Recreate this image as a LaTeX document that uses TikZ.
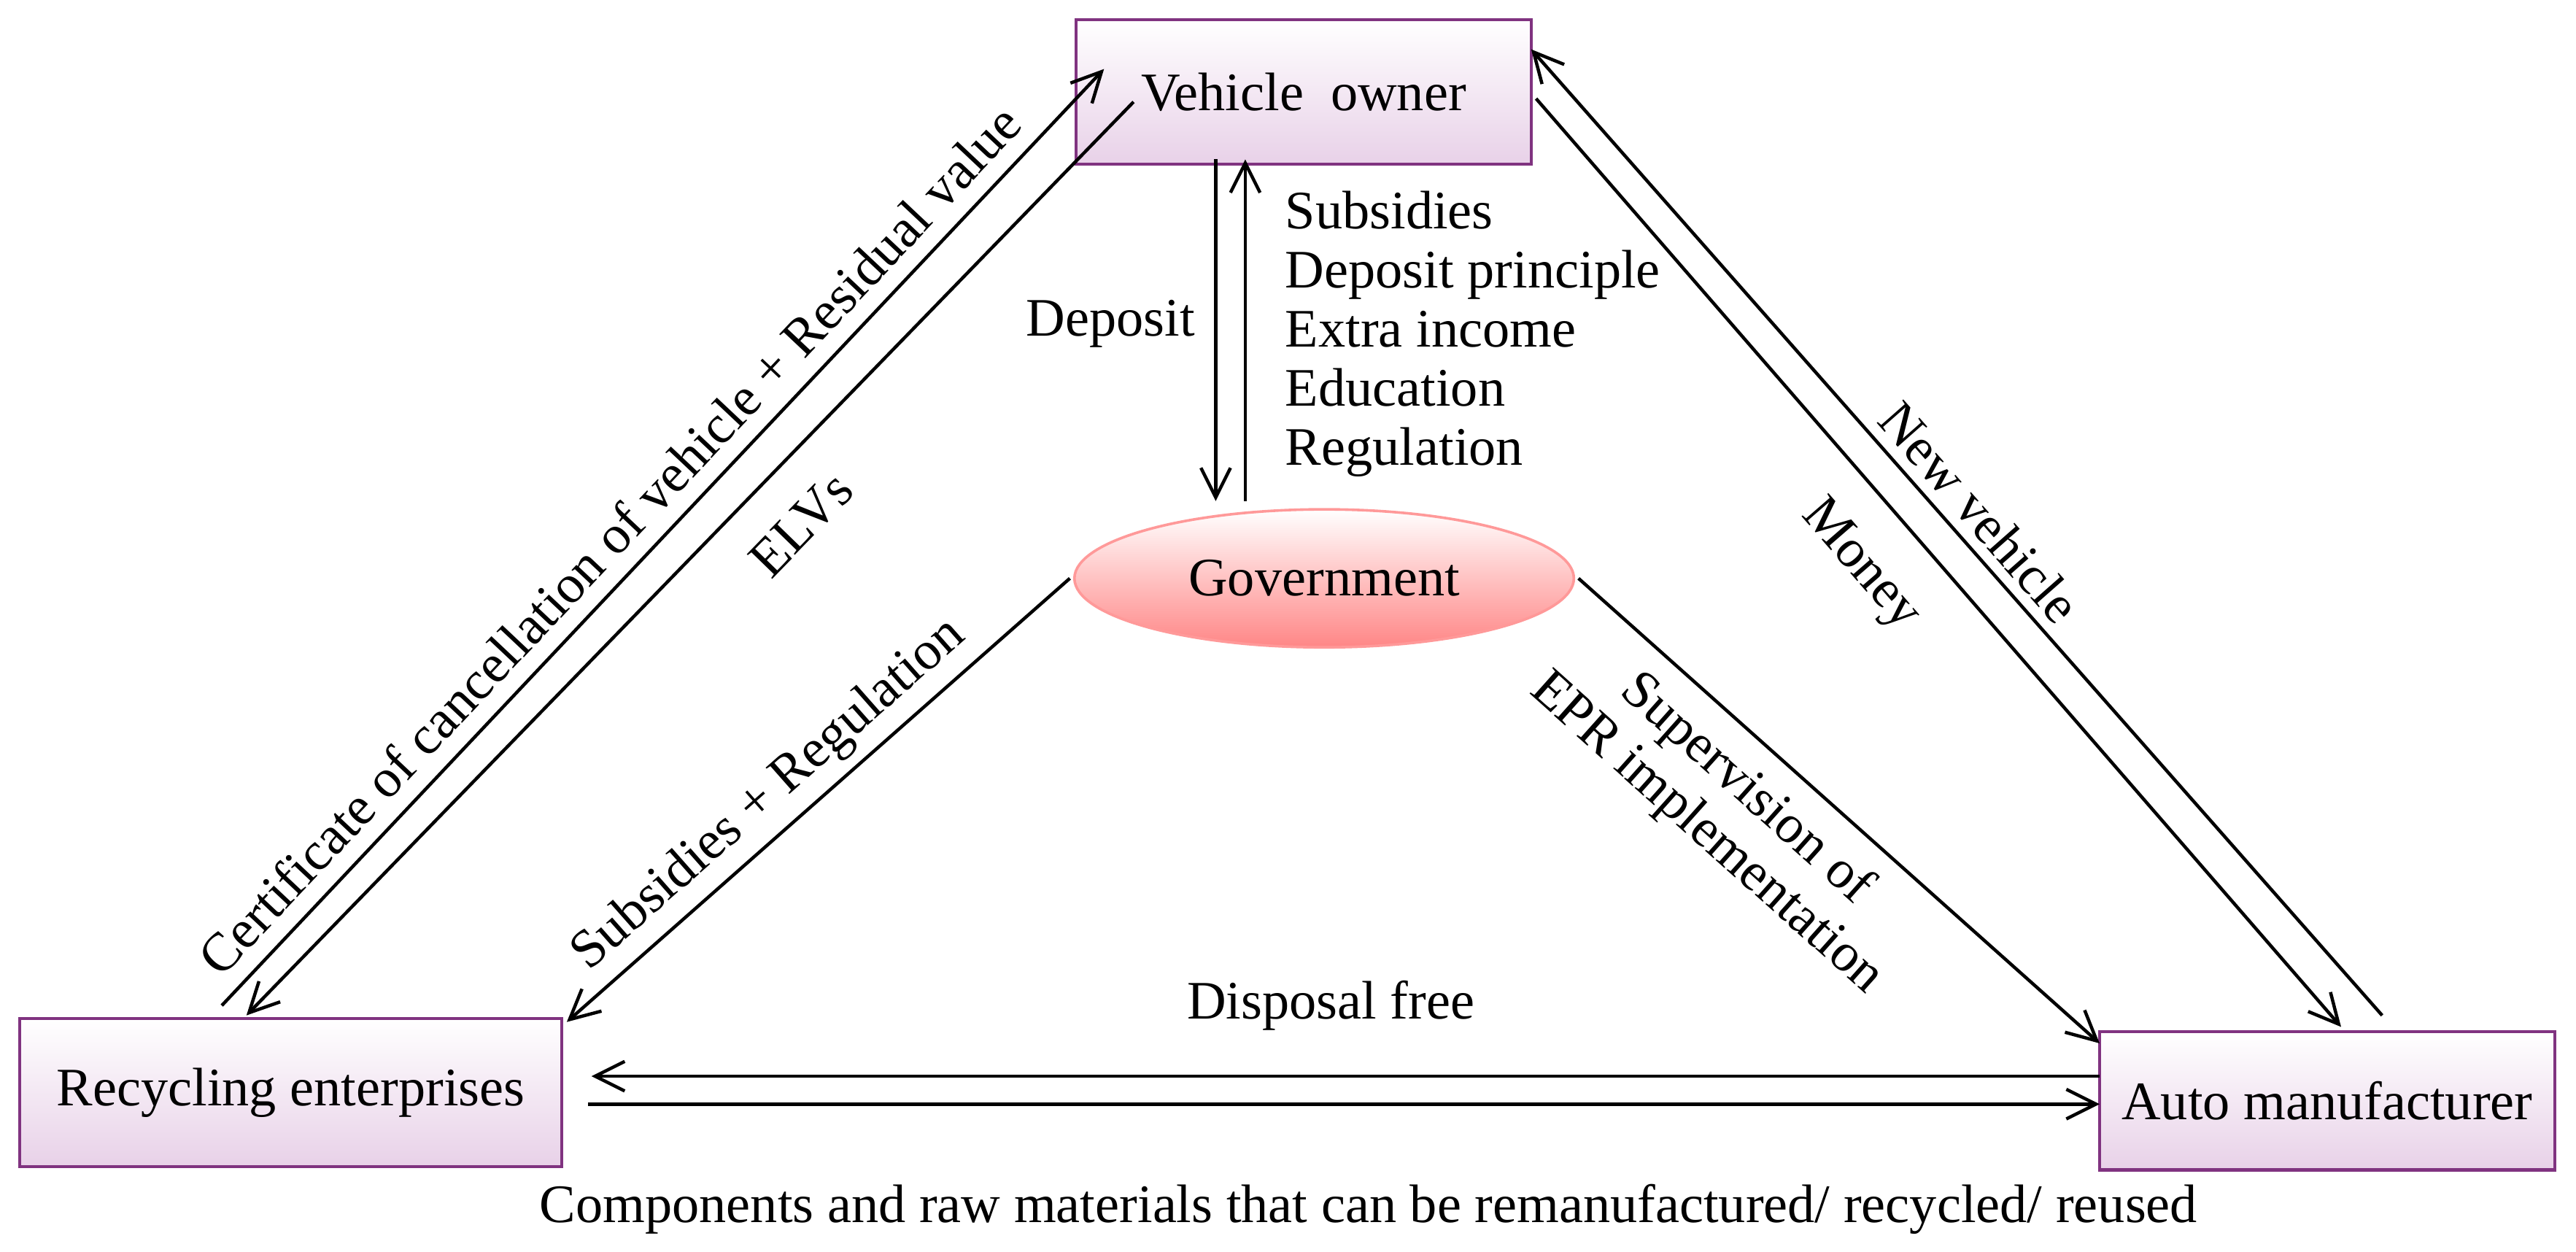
\documentclass[tikz,border=0pt]{standalone}
\usepackage{fontspec}
\setmainfont{Liberation Serif}
\usetikzlibrary{shapes.geometric,arrows.meta}
\begin{document}
\begin{tikzpicture}[x=0.5pt,y=-0.5pt,
  box/.style={draw=violet!60!gray,line width=1pt,top color=white,bottom color=violet!18,inner sep=0pt},
  ar/.style={-{Straight Barb[length=9pt,width=9pt]},line width=1pt},
  lab/.style={font=\fontsize{16.5}{18}\selectfont,inner sep=3pt},
  every node/.style={font=\fontsize{16.5}{18}\selectfont}]
\useasboundingbox (0,0) rectangle (1568,762);
\node[box,minimum width=138.5pt,minimum height=44pt] (vo) at (793.5,56) {Vehicle\ \ owner};
\node[box,minimum width=165pt,minimum height=45pt] (re) at (177,665) {Recycling enterprises};
\node[box,minimum width=138.5pt,minimum height=42pt] (am) at (1416.5,670) {Auto manufacturer};
\node[ellipse,draw=red!40,line width=0.8pt,top color=white,bottom color=red!30!pink,minimum width=152pt,minimum height=42pt,inner sep=0pt] (gov) at (806,352) {Government};
\coordinate (d1) at (740,97); \coordinate (d2) at (740,305);
\coordinate (u1) at (758,305); \coordinate (u2) at (758,97);
\draw[ar] (d1) -- (d2);
\draw[ar] (u1) -- (u2);
\coordinate (c1) at (135,612); \coordinate (c2) at (672,42);
\coordinate (e1) at (690,62); \coordinate (e2) at (150,618);
\draw[ar] (c1) -- node[lab,sloped,above,pos=0.47,yshift=2pt] (l3) {Certificate of cancellation of vehicle + Residual value} (c2);
\draw[ar] (e1) -- node[lab,sloped,below,pos=0.42,yshift=-8pt] (l4) {ELVs} (e2);
\coordinate (n1) at (1450,618); \coordinate (n2) at (932,30);
\coordinate (m1) at (935,60); \coordinate (m2) at (1425,625);
\draw[ar] (n1) -- node[lab,sloped,above,pos=0.5] (l7) {New vehicle} (n2);
\draw[ar] (m1) -- node[lab,sloped,below,pos=0.46,yshift=-8pt] (l8) {Money} (m2);
\draw[ar] (gov.west) ++(-2,0) coordinate (g1) -- node[lab,sloped,above,pos=0.55] (l5) {Subsidies + Regulation} (345,622) coordinate (g2);
\draw[ar] (gov.east) ++(2,0) coordinate (g3) -- node[lab,sloped,below,align=center,pos=0.38,inner sep=6pt] (l6) {Supervision of\\EPR implementation} (1278,635) coordinate (g4);
\coordinate (b1) at (1278,655); \coordinate (b2) at (360,655);
\coordinate (b3) at (358,672); \coordinate (b4) at (1278,672);
\draw[ar] (b1) -- (b2);
\draw[ar] (b3) -- (b4);
\node[lab] (l1) at (676,197) {Deposit};
\node[lab,align=left,anchor=north west] (l2) at (776,110) {Subsidies\\Deposit principle\\Extra income\\Education\\Regulation};
\node[lab] (l9) at (810,612) {Disposal free};
\node[lab] (l10) at (833,736) {Components and raw materials that can be remanufactured/ recycled/ reused};
\end{tikzpicture}
\end{document}
